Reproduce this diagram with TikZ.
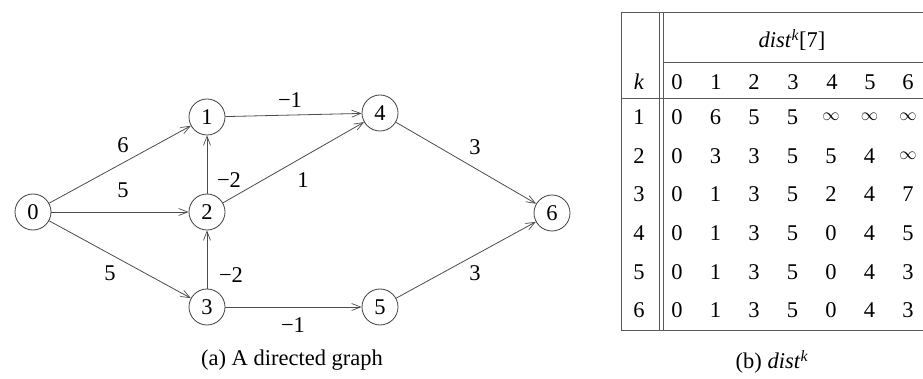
\documentclass[tikz,border=0pt]{standalone}
\usepackage{fontspec}
\setmainfont{Liberation Serif}
\usetikzlibrary{arrows.meta}
\newcommand{\infsym}{{\fontsize{17}{17}\selectfont$\infty$}}
\begin{document}
\begin{tikzpicture}[x=1pt,y=-1pt,
  vtx/.style={circle,draw=black!75,line width=0.8pt,minimum size=36pt,inner sep=0pt,font=\fontsize{22.5}{24}\selectfont},
  edg/.style={draw=black!70,line width=0.8pt,-{Straight Barb[length=9pt,width=7pt,line width=0.7pt]}},
  lbl/.style={font=\fontsize{22.5}{24}\selectfont,inner sep=0pt},
  cell/.style={font=\fontsize{22.5}{24}\selectfont,inner sep=0pt,anchor=center},
  rule/.style={draw=black!65,line width=0.9pt}]
\useasboundingbox (0,0) rectangle (923,379);
% graph
\node[vtx] (n0) at (33,212) {0};
\node[vtx] (n1) at (207,117) {1};
\node[vtx] (n2) at (207,212) {2};
\node[vtx] (n3) at (207,307) {3};
\node[vtx] (n4) at (380,113) {4};
\node[vtx] (n5) at (380,307) {5};
\node[vtx] (n6) at (552,213) {6};
\draw[edg] (n0) -- (n1);
\draw[edg] (n0) -- (n2);
\draw[edg] (n0) -- (n3);
\draw[edg] (n2) -- (n1);
\draw[edg] (n3) -- (n2);
\draw[edg] (n1) -- (n4);
\draw[edg] (n2) -- (n4);
\draw[edg] (n4) -- (n6);
\draw[edg] (n3) -- (n5);
\draw[edg] (n5) -- (n6);
\node[lbl] (l01) at (123,145) {6};
\node[lbl] (l02) at (123,190) {5};
\node[lbl] (l03) at (110,273) {5};
\node[lbl] (l21) at (229,180) {−2};
\node[lbl] (l32) at (231,275) {−2};
\node[lbl] (l14) at (290,100) {−1};
\node[lbl] (l24) at (303,180) {1};
\node[lbl] (l35) at (293,325) {−1};
\node[lbl] (l46) at (475,147) {3};
\node[lbl] (l56) at (475,273) {3};
\node[lbl] (capa) at (292,360) {(a) A directed graph};
% table
\coordinate (tl) at (621,12);
\coordinate (tr) at (923,12);
\coordinate (bl) at (621,330);
\coordinate (br) at (923,330);
\draw[rule] (tl) -- (tr);
\draw[rule] (bl) -- (br);
\draw[rule] (tl) -- (bl);
\coordinate (ha) at (621,98);
\coordinate (hb) at (923,98);
\draw[rule] (ha) -- (hb);
\coordinate (da) at (663,62);
\coordinate (db) at (923,62);
\draw[rule] (da) -- (db);
\coordinate (v1a) at (659,12);
\coordinate (v1b) at (659,330);
\coordinate (v2a) at (663,12);
\coordinate (v2b) at (663,330);
\draw[rule] (v1a) -- (v1b);
\draw[rule] (v2a) -- (v2b);
\node[cell] (dh) at (792,40) {\textit{dist}\textsuperscript{\textit{k}}[7]};
\node[cell] (hk) at (639,82) {\textit{k}};
\foreach \c [count=\i from 0] in {677,716,754,793,832,870,908}{
  \node[cell] (h\i) at (\c,82) {\i};
}
\foreach \r/\y/\vals in {1/117/{0,6,5,5,\infsym,\infsym,\infsym},
                         2/156/{0,3,3,5,5,4,\infsym},
                         3/194/{0,1,3,5,2,4,7},
                         4/233/{0,1,3,5,0,4,5},
                         5/272/{0,1,3,5,0,4,3},
                         6/310/{0,1,3,5,0,4,3}}{
  \node[cell] (r\r) at (639,\y) {\r};
  \foreach \v [count=\j from 0] in \vals {
    \pgfmathsetmacro{\cx}{677+38.5*\j}
    \node[cell] (c\r\j) at (\cx,\y) {\v};
  }
}
\node[lbl] (capb) at (772,362) {(b) \textit{dist}\textsuperscript{\textit{k}}};
\end{tikzpicture}
\end{document}
